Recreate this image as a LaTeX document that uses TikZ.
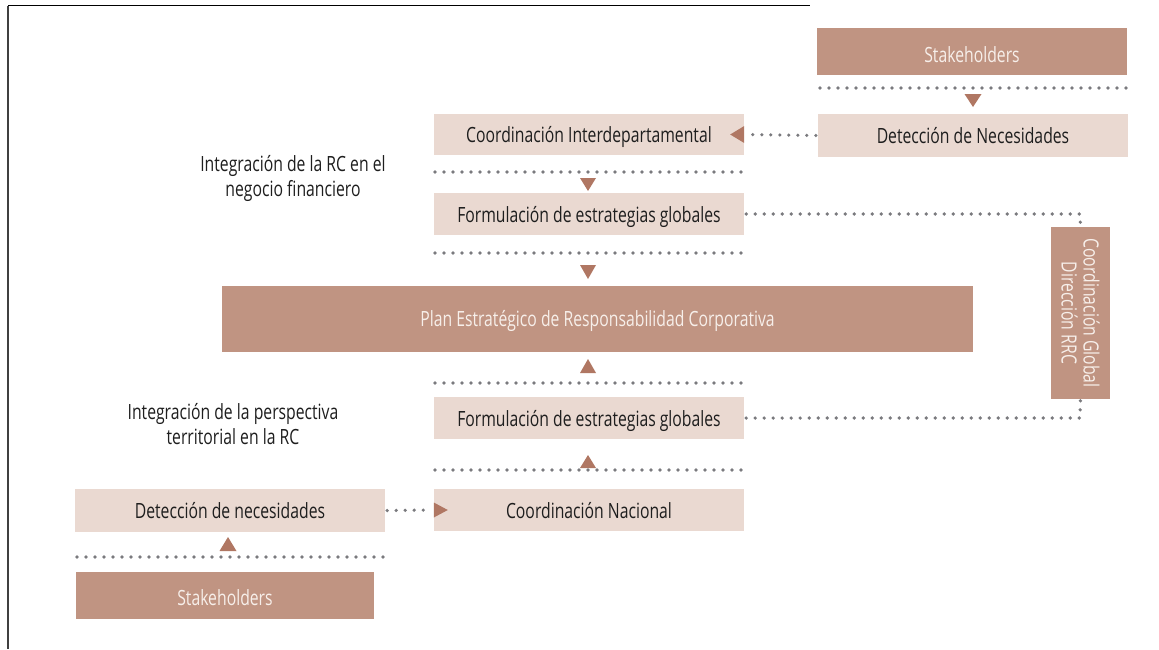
\documentclass[tikz,border=0pt]{standalone}
\usepackage{fontspec}
\setmainfont{Open Sans}[FakeStretch=0.75]
\definecolor{darkbox}{HTML}{C09482}
\definecolor{lightbox}{HTML}{EAD9D1}
\definecolor{trifill}{HTML}{B07763}
\definecolor{dotgray}{HTML}{7A7A7E}
\definecolor{txtdark}{HTML}{1E1E1E}
\definecolor{txtlight}{HTML}{F7EFEA}
\begin{document}
\begin{tikzpicture}[x=1pt,y=-1pt,
  every node/.style={font=\fontsize{21}{25}\selectfont, inner sep=0pt},
  lbox/.style={fill=lightbox, text=txtdark, minimum width=310, minimum height=42, text height=17pt, text depth=1pt},
  dbox/.style={fill=darkbox, text=txtlight},
  dots/.style={draw=dotgray, line width=3.6pt, line cap=round, dash pattern=on 0pt off 9pt},
  tri/.style={fill=trifill},
  lbl/.style={text=txtdark, align=center}]
\useasboundingbox (0,0) rectangle (1159,649);
% frame
\draw[line width=1pt, black] (8,5) -- (810,5);
\draw[line width=1.6pt, black!75] (8,6) -- (8,649);

% nodes
\node[dbox, minimum width=310, minimum height=47, text height=22pt, text depth=0pt] (sh1) at (972,51.5) {Stakeholders};
\node[lbox, minimum width=310, minimum height=43] (dn1) at (973,135.5) {Detección de Necesidades};
\node[lbox, minimum height=41] (ci) at (589,134.5) {Coordinación Interdepartamental};
\node[lbox] (fe1) at (589,214) {Formulación de estrategias globales};
\node[dbox, minimum width=751, minimum height=66, text height=15pt, text depth=1pt] (plan) at (597.5,319) {Plan Estratégico de Responsabilidad Corporativa};
\node[lbox] (fe2) at (589,418) {Formulación de estrategias globales};
\node[lbox] (cn) at (589,510) {Coordinación Nacional};
\node[lbox, minimum height=43] (dn2) at (230,510.5) {Detección de necesidades};
\node[dbox, minimum width=298, minimum height=47, text height=19pt, text depth=0pt] (sh2) at (225,595.5) {Stakeholders};
\node[dbox, rotate=-90, minimum width=172, minimum height=59, align=center, font=\fontsize{21}{22}\selectfont] (cg) at (1080.5,313) {Coordinación Global\\Dirección RRC};
\node[lbl] (l1) at (293,178) {Integración de la RC en el\\negocio financiero};
\node[lbl] (l2) at (233,424) {Integración de la perspectiva\\territorial en la RC};

% separators
\draw[dots] (820,88) -- (1126,88);
\draw[dots] (435,172) -- (741,172);
\draw[dots] (435,253) -- (741,253);
\draw[dots] (435,383) -- (741,383);
\draw[dots] (435,470) -- (741,470);
\draw[dots] (77,557) -- (383,557);

% triangles
\fill[tri] (964.5,94) -- (981.5,94) -- (973,107) -- cycle;
\fill[tri] (580,178) -- (596,178) -- (588,191) -- cycle;
\fill[tri] (580,265) -- (596,265) -- (588,279) -- cycle;
\fill[tri] (580,373) -- (596,373) -- (588,359) -- cycle;
\fill[tri] (580,468) -- (596,468) -- (588,455) -- cycle;
\fill[tri] (219.5,551) -- (236.5,551) -- (228,537) -- cycle;

% connectors
\draw[dots] (dn1.west) ++(-2,0) -- (ci.east);
\fill[tri] ([xshift=-14pt]ci.east) -- ([yshift=8.5pt]ci.east) -- ([yshift=-8.5pt]ci.east) -- cycle;
\draw[dots] ([xshift=2pt]dn2.east) -- ([xshift=-2pt]cn.west);
\fill[tri] ([xshift=14pt]cn.west) -- ([yshift=7.5pt]cn.west) -- ([yshift=-7.5pt]cn.west) -- cycle;
\draw[dots] ([xshift=2pt]fe1.east) -- (1080,214) -- (cg.west);
\draw[dots] ([xshift=2pt]fe2.east) -- (1080,418) -- (cg.east);
\end{tikzpicture}
\end{document}
